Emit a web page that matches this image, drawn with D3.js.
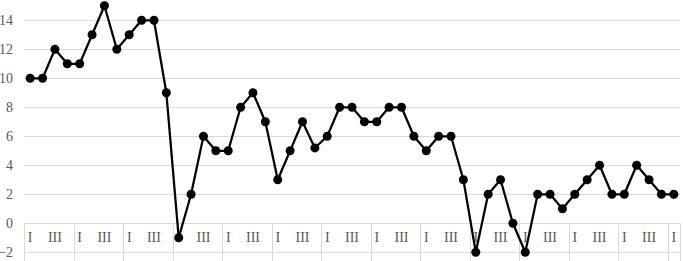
<!DOCTYPE html>
<html>
<head>
<meta charset="utf-8">
<script src="https://cdn.jsdelivr.net/npm/d3@7/dist/d3.min.js"></script>
<style>
  html, body { margin: 0; padding: 0; background: #fff; overflow: hidden; }
  svg { display: block; }
</style>
</head>
<body>
<svg id="chart" width="683" height="261"></svg>
<script>
// ---- data ----
const quarterNames = ["I", "II", "III", "IV"];
const shownQuarters = ["I", "III"];
const values = [
  10, 10, 12, 11, 11, 13, 15, 12, 13, 14, 14, 9,
  -1, 2, 6, 5, 5, 8, 9, 7, 3, 5, 7, 5.2,
  6, 8, 8, 7, 7, 8, 8, 6, 5, 6, 6, 3,
  -2, 2, 3, 0, -2, 2, 2, 1, 2, 3, 4, 2,
  2, 4, 3, 2, 2
];
const yTicks = [-2, 0, 2, 4, 6, 8, 10, 12, 14];

// categories: quarter label for each point
const categories = values.map((v, i) => quarterNames[i % 4]);

// ---- layout ----
const W = 683, H = 261;
const left = 24, right = 680;
const svg = d3.select("#chart");

const x = d3.scaleBand().domain(d3.range(values.length)).range([left, right]).padding(0);
const y = d3.scaleLinear().domain([-2, 16]).range([252.3, -8.7]);
const cx = i => x(i) + x.bandwidth() / 2;

const font = "'Liberation Serif', 'Times New Roman', serif";

// gridlines
svg.append("g").selectAll("line").data(yTicks).join("line")
  .attr("x1", left).attr("x2", right)
  .attr("y1", d => Math.round(y(d)) + 0.5).attr("y2", d => Math.round(y(d)) + 0.5)
  .attr("stroke", "#d9d9d9").attr("stroke-width", 1);

// y axis labels
const yAxis = svg.append("g").attr("transform", `translate(${left},0)`)
  .call(d3.axisLeft(y).tickValues(yTicks).tickSize(0).tickPadding(11).tickFormat(d3.format("d")));
yAxis.select(".domain").remove();
yAxis.selectAll("text").attr("font-family", font).attr("font-size", 14).attr("fill", "#595959");

// category axis (crosses at 0)
const y0 = Math.round(y(0)) + 0.5;
const xAxis = svg.append("g").attr("transform", `translate(0,${y0})`)
  .call(d3.axisBottom(x).tickSize(0).tickPadding(9)
    .tickFormat(i => shownQuarters.includes(categories[i]) ? categories[i] : ""));
xAxis.select(".domain").remove();
xAxis.selectAll("text").attr("font-family", font).attr("font-size", 14).attr("fill", "#595959");

// group separators
const seps = d3.range(0, values.length, 4).map(i => x(i)).concat([right]);
svg.append("g").selectAll("line").data(seps).join("line")
  .attr("x1", d => Math.round(d) + 0.5).attr("x2", d => Math.round(d) + 0.5)
  .attr("y1", y0).attr("y2", H + 40)
  .attr("stroke", "#d9d9d9").attr("stroke-width", 1);

// line
const line = d3.line().x((d, i) => cx(i)).y(d => y(d));
svg.append("path").datum(values)
  .attr("d", line).attr("fill", "none")
  .attr("stroke", "#000").attr("stroke-width", 2.25).attr("stroke-linejoin", "round");

// markers
svg.append("g").selectAll("circle").data(values).join("circle")
  .attr("cx", (d, i) => cx(i)).attr("cy", d => y(d)).attr("r", 4.5)
  .attr("fill", "#000");
</script>
</body>
</html>
